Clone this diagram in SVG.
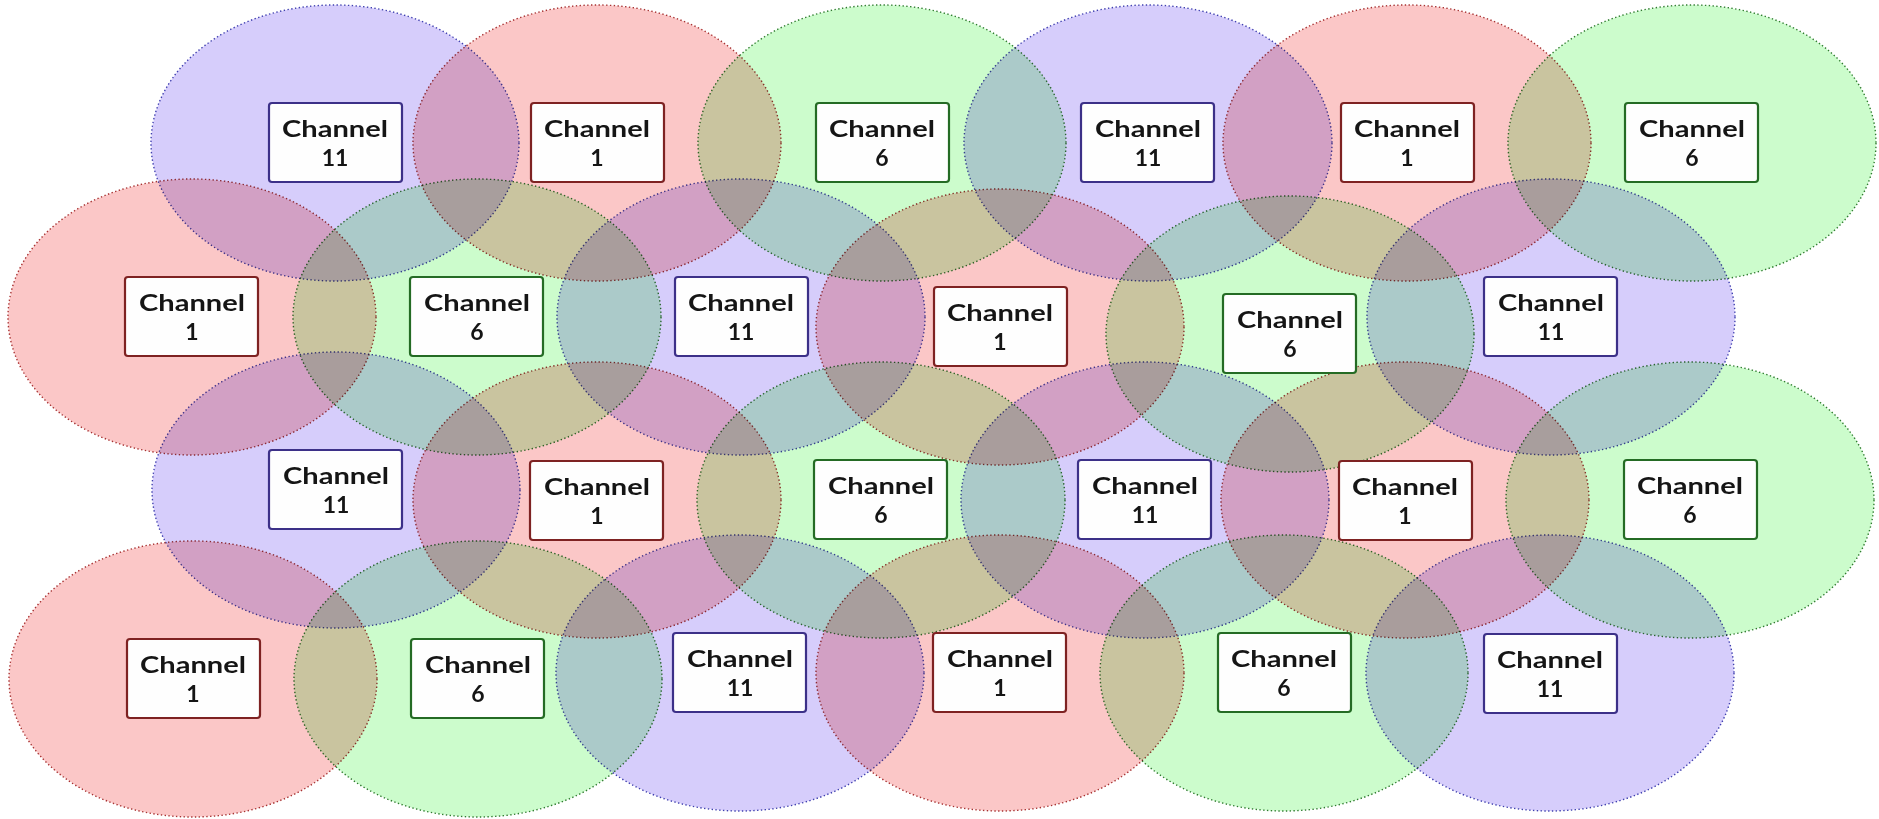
<svg xmlns="http://www.w3.org/2000/svg" width="1879" height="819" viewBox="0 0 1879 819">
<style>
.cov ellipse{mix-blend-mode:multiply;stroke-width:1.4;stroke-dasharray:1.4 2.4;}
.r ellipse,ellipse.r{fill:#fbc7c7;stroke:#a83232;}
.g ellipse,ellipse.g{fill:#ccfccc;stroke:#2f7d2f;}
.p ellipse,ellipse.p{fill:#d6cdfb;stroke:#4040b0;}
.box{fill:#fefefe;stroke-width:2.2;}
.br{stroke:#7e2222;}
.bg{stroke:#246b24;}
.bp{stroke:#3c3088;}
text{font-family:Lato,"Open Sans","Liberation Sans",sans-serif;font-size:22px;font-weight:700;fill:#151515;text-anchor:middle;}
.n{font-size:23px;}
</style>
<rect width="1879" height="819" fill="#ffffff"/>
<g id="coverage" class="cov">
<ellipse id="a-1-1" class="p" cx="335" cy="143" rx="184" ry="138"/>
<ellipse id="a-1-2" class="r" cx="597" cy="143" rx="184" ry="138"/>
<ellipse id="a-1-3" class="g" cx="882" cy="143" rx="184" ry="138"/>
<ellipse id="a-1-4" class="p" cx="1148" cy="143" rx="184" ry="138"/>
<ellipse id="a-1-5" class="r" cx="1407" cy="143" rx="184" ry="138"/>
<ellipse id="a-1-6" class="g" cx="1692" cy="143" rx="184" ry="138"/>
<ellipse id="a-2-1" class="r" cx="192" cy="317" rx="184" ry="138"/>
<ellipse id="a-2-2" class="g" cx="477" cy="317" rx="184" ry="138"/>
<ellipse id="a-2-3" class="p" cx="741" cy="317" rx="184" ry="138"/>
<ellipse id="a-2-4" class="r" cx="1000" cy="327" rx="184" ry="138"/>
<ellipse id="a-2-5" class="g" cx="1290" cy="334" rx="184" ry="138"/>
<ellipse id="a-2-6" class="p" cx="1551" cy="317" rx="184" ry="138"/>
<ellipse id="a-3-1" class="p" cx="336" cy="490" rx="184" ry="138"/>
<ellipse id="a-3-2" class="r" cx="597" cy="500" rx="184" ry="138"/>
<ellipse id="a-3-3" class="g" cx="881" cy="500" rx="184" ry="138"/>
<ellipse id="a-3-4" class="p" cx="1145" cy="500" rx="184" ry="138"/>
<ellipse id="a-3-5" class="r" cx="1405" cy="500" rx="184" ry="138"/>
<ellipse id="a-3-6" class="g" cx="1690" cy="500" rx="184" ry="138"/>
<ellipse id="a-4-1" class="r" cx="193" cy="679" rx="184" ry="138"/>
<ellipse id="a-4-2" class="g" cx="478" cy="679" rx="184" ry="138"/>
<ellipse id="a-4-3" class="p" cx="740" cy="673" rx="184" ry="138"/>
<ellipse id="a-4-4" class="r" cx="1000" cy="673" rx="184" ry="138"/>
<ellipse id="a-4-5" class="g" cx="1284" cy="673" rx="184" ry="138"/>
<ellipse id="a-4-6" class="p" cx="1550" cy="673" rx="184" ry="138"/>
</g>
<g id="connectors"></g>
<g id="labels">
<g id="n-1-1"><rect class="box bp" x="269" y="103" width="133" height="79" rx="3"/><text x="335" y="137" textLength="106" lengthAdjust="spacingAndGlyphs">Channel</text><text class="n" x="335" y="166">11</text></g>
<g id="n-1-2"><rect class="box br" x="531" y="103" width="133" height="79" rx="3"/><text x="597" y="137" textLength="106" lengthAdjust="spacingAndGlyphs">Channel</text><text class="n" x="597" y="166">1</text></g>
<g id="n-1-3"><rect class="box bg" x="816" y="103" width="133" height="79" rx="3"/><text x="882" y="137" textLength="106" lengthAdjust="spacingAndGlyphs">Channel</text><text class="n" x="882" y="166">6</text></g>
<g id="n-1-4"><rect class="box bp" x="1081" y="103" width="133" height="79" rx="3"/><text x="1148" y="137" textLength="106" lengthAdjust="spacingAndGlyphs">Channel</text><text class="n" x="1148" y="166">11</text></g>
<g id="n-1-5"><rect class="box br" x="1341" y="103" width="133" height="79" rx="3"/><text x="1407" y="137" textLength="106" lengthAdjust="spacingAndGlyphs">Channel</text><text class="n" x="1407" y="166">1</text></g>
<g id="n-1-6"><rect class="box bg" x="1625" y="103" width="133" height="79" rx="3"/><text x="1692" y="137" textLength="106" lengthAdjust="spacingAndGlyphs">Channel</text><text class="n" x="1692" y="166">6</text></g>
<g id="n-2-1"><rect class="box br" x="125" y="277" width="133" height="79" rx="3"/><text x="192" y="311" textLength="106" lengthAdjust="spacingAndGlyphs">Channel</text><text class="n" x="192" y="340">1</text></g>
<g id="n-2-2"><rect class="box bg" x="410" y="277" width="133" height="79" rx="3"/><text x="477" y="311" textLength="106" lengthAdjust="spacingAndGlyphs">Channel</text><text class="n" x="477" y="340">6</text></g>
<g id="n-2-3"><rect class="box bp" x="675" y="277" width="133" height="79" rx="3"/><text x="741" y="311" textLength="106" lengthAdjust="spacingAndGlyphs">Channel</text><text class="n" x="741" y="340">11</text></g>
<g id="n-2-4"><rect class="box br" x="934" y="287" width="133" height="79" rx="3"/><text x="1000" y="321" textLength="106" lengthAdjust="spacingAndGlyphs">Channel</text><text class="n" x="1000" y="350">1</text></g>
<g id="n-2-5"><rect class="box bg" x="1223" y="294" width="133" height="79" rx="3"/><text x="1290" y="328" textLength="106" lengthAdjust="spacingAndGlyphs">Channel</text><text class="n" x="1290" y="357">6</text></g>
<g id="n-2-6"><rect class="box bp" x="1484" y="277" width="133" height="79" rx="3"/><text x="1551" y="311" textLength="106" lengthAdjust="spacingAndGlyphs">Channel</text><text class="n" x="1551" y="340">11</text></g>
<g id="n-3-1"><rect class="box bp" x="269" y="450" width="133" height="79" rx="3"/><text x="336" y="484" textLength="106" lengthAdjust="spacingAndGlyphs">Channel</text><text class="n" x="336" y="513">11</text></g>
<g id="n-3-2"><rect class="box br" x="530" y="461" width="133" height="79" rx="3"/><text x="597" y="495" textLength="106" lengthAdjust="spacingAndGlyphs">Channel</text><text class="n" x="597" y="524">1</text></g>
<g id="n-3-3"><rect class="box bg" x="814" y="460" width="133" height="79" rx="3"/><text x="881" y="494" textLength="106" lengthAdjust="spacingAndGlyphs">Channel</text><text class="n" x="881" y="523">6</text></g>
<g id="n-3-4"><rect class="box bp" x="1078" y="460" width="133" height="79" rx="3"/><text x="1145" y="494" textLength="106" lengthAdjust="spacingAndGlyphs">Channel</text><text class="n" x="1145" y="523">11</text></g>
<g id="n-3-5"><rect class="box br" x="1339" y="461" width="133" height="79" rx="3"/><text x="1405" y="495" textLength="106" lengthAdjust="spacingAndGlyphs">Channel</text><text class="n" x="1405" y="524">1</text></g>
<g id="n-3-6"><rect class="box bg" x="1624" y="460" width="133" height="79" rx="3"/><text x="1690" y="494" textLength="106" lengthAdjust="spacingAndGlyphs">Channel</text><text class="n" x="1690" y="523">6</text></g>
<g id="n-4-1"><rect class="box br" x="127" y="639" width="133" height="79" rx="3"/><text x="193" y="673" textLength="106" lengthAdjust="spacingAndGlyphs">Channel</text><text class="n" x="193" y="702">1</text></g>
<g id="n-4-2"><rect class="box bg" x="411" y="639" width="133" height="79" rx="3"/><text x="478" y="673" textLength="106" lengthAdjust="spacingAndGlyphs">Channel</text><text class="n" x="478" y="702">6</text></g>
<g id="n-4-3"><rect class="box bp" x="673" y="633" width="133" height="79" rx="3"/><text x="740" y="667" textLength="106" lengthAdjust="spacingAndGlyphs">Channel</text><text class="n" x="740" y="696">11</text></g>
<g id="n-4-4"><rect class="box br" x="933" y="633" width="133" height="79" rx="3"/><text x="1000" y="667" textLength="106" lengthAdjust="spacingAndGlyphs">Channel</text><text class="n" x="1000" y="696">1</text></g>
<g id="n-4-5"><rect class="box bg" x="1218" y="633" width="133" height="79" rx="3"/><text x="1284" y="667" textLength="106" lengthAdjust="spacingAndGlyphs">Channel</text><text class="n" x="1284" y="696">6</text></g>
<g id="n-4-6"><rect class="box bp" x="1484" y="634" width="133" height="79" rx="3"/><text x="1550" y="668" textLength="106" lengthAdjust="spacingAndGlyphs">Channel</text><text class="n" x="1550" y="697">11</text></g>
</g>
</svg>
